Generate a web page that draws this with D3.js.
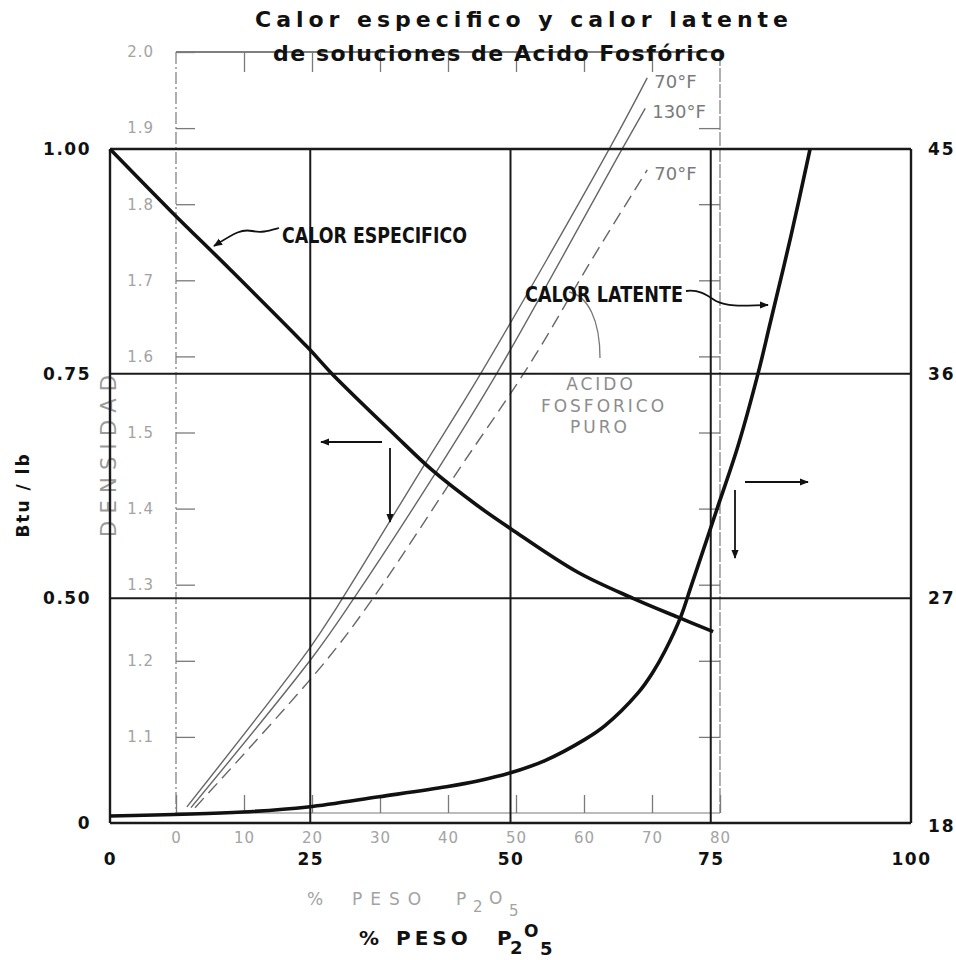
<!DOCTYPE html>
<html>
<head>
<meta charset="utf-8">
<script src="https://cdn.jsdelivr.net/npm/d3@7"></script>
<style>
body{margin:0;background:#fff;}
svg{display:block;}
</style>
</head>
<body>
<svg class="chart"></svg>
<script>
// % peso P2O5 (escala principal 0-100)
var pesoCE = [0, 7.7, 15, 24.7, 27.7, 35.3, 40.3, 45.9, 50.1, 58.4, 65.3, 70.9, 75.3];
var calorEspecifico = [1.00, 0.930, 0.866, 0.779, 0.750, 0.684, 0.642, 0.603, 0.577, 0.529, 0.500, 0.479, 0.463];

var pesoCL = [0, 16.6, 24.7, 33.6, 42.0, 45.9, 49.9, 54.3, 59.3, 61.8, 65.9, 67.7, 69.3, 71.3, 72.5, 75.7, 78.4, 80.9, 82.4, 85.0, 87.4];
var calorLatente = [18.28, 18.44, 18.64, 19.05, 19.45, 19.68, 20.0, 20.5, 21.35, 21.9, 23.2, 24.0, 24.9, 26.3, 27.44, 30.5, 33.1, 36.0, 38.0, 41.5, 45.0];

// densidad (escala gris 0-80)
var pesoD70 = [1.6, 19.7, 23.7, 36.0, 44.85, 63.8, 69.3];
var dens70 = [1.008, 1.217, 1.271, 1.450, 1.578, 1.874, 1.966];
var pesoD130 = [2.2, 20.1, 26.0, 37.9, 47.2, 65.7, 69.0];
var dens130 = [1.007, 1.205, 1.280, 1.443, 1.578, 1.874, 1.926];
var pesoDPuro = [2.8, 21.5, 28.8, 41.5, 52.1, 61.2, 69.3];
var densPuro = [1.007, 1.194, 1.280, 1.450, 1.591, 1.728, 1.845];

var xTicks = [0, 25, 50, 75, 100];
var btuTicks = [0.25, 0.50, 0.75, 1.00];
var btuLabels = ['0', '0.50', '0.75', '1.00'];
var latTicks = [18, 27, 36, 45];
var densXTicks = [0, 10, 20, 30, 40, 50, 60, 70, 80];
var densYTicks = [1.1, 1.2, 1.3, 1.4, 1.5, 1.6, 1.7, 1.8, 1.9, 2.0];

var FONT = 'DejaVu Sans';
var GRAY = '#7a7a7a';
var GRAY_TXT = '#a3a3a3';

var svg = d3.select('svg.chart').attr('width', 956).attr('height', 960);

var x = d3.scaleLinear().domain([0, 100]).range([110, 911]);
var yBtu = d3.scaleLinear().domain([0.25, 1.0]).range([823, 149]);
var yLat = d3.scaleLinear().domain([18, 45]).range([823, 149]);
var xD = d3.scaleLinear().domain([0, 80]).range([176, 720]);
var yD = d3.scaleLinear().domain([1.0, 2.0]).range([813, 52]);

var defs = svg.append('defs');
defs.append('marker')
	.attr('id', 'flecha')
	.attr('viewBox', '0 0 10 10')
	.attr('refX', 9).attr('refY', 5)
	.attr('markerWidth', 9).attr('markerHeight', 9)
	.attr('markerUnits', 'userSpaceOnUse')
	.attr('orient', 'auto')
	.append('path')
	.attr('d', 'M0,1 L10,5 L0,9 Z')
	.attr('fill', '#111');

// ---- grafico de densidad (gris, al fondo)
var dens = svg.append('g').attr('class', 'densidad');

dens.append('line')
	.attr('x1', xD(0)).attr('x2', xD(0)).attr('y1', yD(2)).attr('y2', yD(1))
	.attr('stroke', GRAY).attr('stroke-width', 1.2)
	.attr('stroke-dasharray', '12,3,2,3');
dens.append('line')
	.attr('x1', xD(0)).attr('x2', xD(80)).attr('y1', yD(2)).attr('y2', yD(2))
	.attr('stroke', '#555').attr('stroke-width', 1.3);
dens.append('line')
	.attr('x1', xD(80)).attr('x2', xD(80)).attr('y1', yD(2)).attr('y2', yD(1))
	.attr('stroke', GRAY).attr('stroke-width', 1.2)
	.attr('stroke-dasharray', '14,2');
dens.append('line')
	.attr('x1', xD(0)).attr('x2', xD(80)).attr('y1', yD(1)).attr('y2', yD(1))
	.attr('stroke', GRAY).attr('stroke-width', 1.2);

var axL = dens.append('g')
	.attr('transform', 'translate(' + xD(0) + ',0)')
	.call(d3.axisLeft(yD).tickValues(densYTicks).tickSize(-19).tickPadding(22).tickFormat(d3.format('.1f')));
var axB = dens.append('g')
	.attr('transform', 'translate(0,' + yD(1) + ')')
	.call(d3.axisBottom(xD).tickValues(densXTicks).tickSize(-18).tickPadding(19));
var axT = dens.append('g')
	.attr('transform', 'translate(0,' + yD(2) + ')')
	.call(d3.axisTop(xD).tickValues(densXTicks.slice(1, 8)).tickSize(-20).tickFormat(''));
var axR = dens.append('g')
	.attr('transform', 'translate(' + xD(80) + ',0)')
	.call(d3.axisRight(yD).tickValues(densYTicks.slice(0, 9)).tickSize(-21).tickFormat(''));

[axL, axB, axT, axR].forEach(function(g){
	g.select('.domain').remove();
	g.selectAll('line').attr('stroke', GRAY).attr('stroke-width', 1.3);
	g.selectAll('text')
		.attr('fill', GRAY_TXT)
		.attr('font-family', FONT)
		.attr('font-size', 15)
		.attr('letter-spacing', 1);
});

var lineD = d3.line()
	.x(function(d){ return xD(d[0]); })
	.y(function(d){ return yD(d[1]); })
	.curve(d3.curveCatmullRom.alpha(0.5));

var densSeries = [
	{peso: pesoD70, val: dens70, dash: null, label: '70°F'},
	{peso: pesoD130, val: dens130, dash: null, label: '130°F'},
	{peso: pesoDPuro, val: densPuro, dash: '13,7', label: '70°F'}
];
densSeries.forEach(function(s){
	var pts = s.peso.map(function(p, i){ return [p, s.val[i]]; });
	dens.append('path')
		.attr('d', lineD(pts))
		.attr('fill', 'none')
		.attr('stroke', '#666')
		.attr('stroke-width', 1.4)
		.attr('stroke-dasharray', s.dash);
	var last = pts[pts.length - 1];
	dens.append('text')
		.attr('x', xD(last[0]) + 7)
		.attr('y', yD(last[1]) + 10)
		.attr('font-family', FONT)
		.attr('font-size', 18)
		.attr('fill', GRAY)
		.text(s.label);
});

dens.append('text')
	.attr('transform', 'translate(116,537) rotate(-90)')
	.attr('font-family', FONT)
	.attr('font-size', 21)
	.attr('fill', '#9a9a9a')
	.attr('textLength', 162)
	.attr('lengthAdjust', 'spacing')
	.text('DENSIDAD');

var puro = dens.append('g')
	.attr('font-family', FONT)
	.attr('font-size', 17)
	.attr('fill', '#8d8d8d')
	.attr('text-anchor', 'middle');
puro.append('text').attr('x', 601).attr('y', 390).attr('letter-spacing', 3).text('ACIDO');
puro.append('text').attr('x', 604).attr('y', 412).attr('letter-spacing', 3).text('FOSFORICO');
puro.append('text').attr('x', 600).attr('y', 433).attr('letter-spacing', 3).text('PURO');
dens.append('path')
	.attr('d', 'M569,292 C588,296 600,320 600,358')
	.attr('fill', 'none')
	.attr('stroke', '#777')
	.attr('stroke-width', 1.3);

var pesoGris = dens.append('text')
	.attr('y', 905)
	.attr('font-family', FONT)
	.attr('font-size', 17)
	.attr('fill', GRAY_TXT);
pesoGris.append('tspan').attr('x', 307).text('%');
pesoGris.append('tspan').attr('x', 352).attr('letter-spacing', 8).text('PESO');
pesoGris.append('tspan').attr('x', 456).text('P');
pesoGris.append('tspan').attr('x', 473).attr('dy', 7).attr('font-size', 15).text('2');
pesoGris.append('tspan').attr('x', 489).attr('dy', -8).text('O');
pesoGris.append('tspan').attr('x', 509).attr('dy', 12).attr('font-size', 15).text('5');

// ---- grafico principal
var grid = svg.append('g').attr('class', 'grid');
grid.selectAll('.vgrid')
	.data(xTicks)
	.enter()
	.append('line')
	.attr('class', 'vgrid')
	.attr('x1', function(d){ return x(d); })
	.attr('x2', function(d){ return x(d); })
	.attr('y1', yBtu(1)).attr('y2', yBtu(0.25))
	.attr('stroke', '#1a1a1a')
	.attr('stroke-width', function(d){ return (d == 0 || d == 100) ? 2.4 : 2; });
grid.selectAll('.hgrid')
	.data(btuTicks)
	.enter()
	.append('line')
	.attr('class', 'hgrid')
	.attr('x1', x(0)).attr('x2', x(100))
	.attr('y1', function(d){ return yBtu(d); })
	.attr('y2', function(d){ return yBtu(d); })
	.attr('stroke', '#1a1a1a')
	.attr('stroke-width', function(d){ return (d == 0.25 || d == 1) ? 2.4 : 2; });

var axisLeft = svg.append('g')
	.attr('transform', 'translate(' + x(0) + ',0)')
	.call(d3.axisLeft(yBtu).tickValues(btuTicks).tickSize(0).tickPadding(19)
		.tickFormat(function(d, i){ return btuLabels[i]; }));
var axisRight = svg.append('g')
	.attr('transform', 'translate(' + x(100) + ',0)')
	.call(d3.axisRight(yLat).tickValues(latTicks).tickSize(0).tickPadding(17));
var axisBottom = svg.append('g')
	.attr('transform', 'translate(0,' + yBtu(0.25) + ')')
	.call(d3.axisBottom(x).tickValues(xTicks).tickSize(0).tickPadding(30));

[axisLeft, axisRight, axisBottom].forEach(function(g){
	g.select('.domain').remove();
	g.selectAll('text')
		.attr('fill', '#111')
		.attr('font-family', FONT)
		.attr('font-weight', 'bold')
		.attr('font-size', 17)
		.attr('letter-spacing', 1.5);
});
axisRight.selectAll('text').attr('letter-spacing', 2);
axisRight.selectAll('text').filter(function(d){ return d == 18; }).attr('dy', '0.5em');

var lineCE = d3.line()
	.x(function(d){ return x(d[0]); })
	.y(function(d){ return yBtu(d[1]); })
	.curve(d3.curveCatmullRom.alpha(0.5));
var lineCL = d3.line()
	.x(function(d){ return x(d[0]); })
	.y(function(d){ return yLat(d[1]); })
	.curve(d3.curveCatmullRom.alpha(0.5));

svg.append('path')
	.datum(pesoCE.map(function(p, i){ return [p, calorEspecifico[i]]; }))
	.attr('d', lineCE)
	.attr('fill', 'none')
	.attr('stroke', '#111')
	.attr('stroke-width', 3.6);
svg.append('path')
	.datum(pesoCL.map(function(p, i){ return [p, calorLatente[i]]; }))
	.attr('d', lineCL)
	.attr('fill', 'none')
	.attr('stroke', '#111')
	.attr('stroke-width', 3.6);

// flechas
var flechas = [
	[382, 442, 321, 442],
	[390, 448, 390, 522],
	[745, 482, 808, 482],
	[735, 490, 735, 558]
];
svg.selectAll('.flecha')
	.data(flechas)
	.enter()
	.append('line')
	.attr('class', 'flecha')
	.attr('x1', function(d){ return d[0]; })
	.attr('y1', function(d){ return d[1]; })
	.attr('x2', function(d){ return d[2]; })
	.attr('y2', function(d){ return d[3]; })
	.attr('stroke', '#111')
	.attr('stroke-width', 1.8)
	.attr('marker-end', 'url(#flecha)');

svg.append('path')
	.attr('d', 'M279,228 C268,231 262,233 252,231 C242,229 236,232 214,246')
	.attr('fill', 'none')
	.attr('stroke', '#111')
	.attr('stroke-width', 1.8)
	.attr('marker-end', 'url(#flecha)');
svg.append('path')
	.attr('d', 'M686,291 C700,289 708,296 716,301 C730,308 750,305 768,305')
	.attr('fill', 'none')
	.attr('stroke', '#111')
	.attr('stroke-width', 1.8)
	.attr('marker-end', 'url(#flecha)');

svg.append('text')
	.attr('x', 282).attr('y', 243)
	.attr('font-family', FONT)
	.attr('font-weight', 'bold')
	.attr('font-size', 21)
	.attr('fill', '#111')
	.attr('textLength', 185)
	.attr('lengthAdjust', 'spacingAndGlyphs')
	.text('CALOR ESPECIFICO');
svg.append('text')
	.attr('x', 525).attr('y', 302)
	.attr('font-family', FONT)
	.attr('font-weight', 'bold')
	.attr('font-size', 22)
	.attr('fill', '#111')
	.attr('textLength', 158)
	.attr('lengthAdjust', 'spacingAndGlyphs')
	.text('CALOR LATENTE');

// titulos
svg.append('text')
	.attr('x', 255).attr('y', 27)
	.attr('font-family', FONT)
	.attr('font-weight', 'bold')
	.attr('font-size', 22)
	.attr('fill', '#111')
	.attr('textLength', 533)
	.attr('lengthAdjust', 'spacing')
	.text('Calor especifico y calor latente');
svg.append('text')
	.attr('x', 273).attr('y', 61)
	.attr('font-family', FONT)
	.attr('font-weight', 'bold')
	.attr('font-size', 22)
	.attr('fill', '#111')
	.attr('textLength', 452)
	.attr('lengthAdjust', 'spacing')
	.text('de soluciones de Acido Fosfórico');

svg.append('text')
	.attr('transform', 'translate(29,495) rotate(-90)')
	.attr('font-family', FONT)
	.attr('font-weight', 'bold')
	.attr('font-size', 17)
	.attr('fill', '#111')
	.attr('text-anchor', 'middle')
	.attr('letter-spacing', 2)
	.text('Btu / lb');

var pesoNegro = svg.append('text')
	.attr('y', 945)
	.attr('font-family', FONT)
	.attr('font-weight', 'bold')
	.attr('font-size', 20)
	.attr('fill', '#111');
pesoNegro.append('tspan').attr('x', 359).text('%');
pesoNegro.append('tspan').attr('x', 396).attr('letter-spacing', 4).text('PESO');
pesoNegro.append('tspan').attr('x', 497).text('P');
pesoNegro.append('tspan').attr('x', 510).attr('dy', 9).attr('font-size', 18).text('2');
pesoNegro.append('tspan').attr('x', 524).attr('dy', -17).attr('font-size', 17).text('O');
pesoNegro.append('tspan').attr('x', 540).attr('dy', 18).attr('font-size', 18).text('5');
</script>
</body>
</html>
